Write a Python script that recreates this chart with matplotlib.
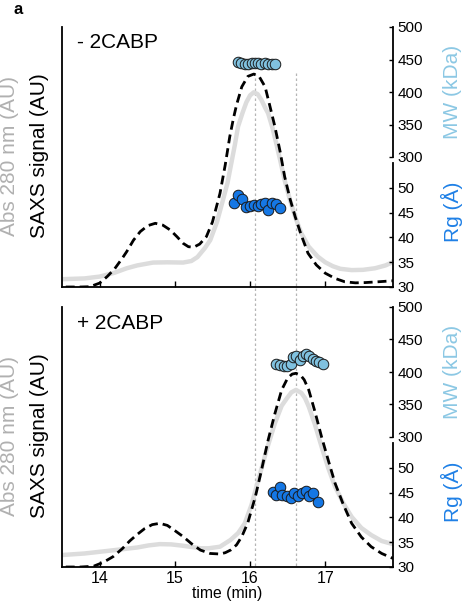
import matplotlib
matplotlib.use("Agg")
import matplotlib.pyplot as plt
from matplotlib.lines import Line2D
from matplotlib.transforms import blended_transform_factory

plt.rcParams['font.family'] = ['Liberation Sans', 'DejaVu Sans']

# ---------------- data ----------------
# top panel (- 2CABP)
t_abs_top = [13.5, 13.8, 14.0, 14.2, 14.36, 14.5, 14.71, 14.9, 15.11, 15.22, 15.3, 15.4,
             15.47, 15.56, 15.64, 15.7, 15.74, 15.8, 15.84, 15.9, 15.95, 16.0, 16.05, 16.1,
             16.15, 16.2, 16.24, 16.3, 16.35, 16.4, 16.46, 16.53, 16.6, 16.68, 16.78, 16.9,
             17.0, 17.1, 17.2, 17.35, 17.5, 17.66, 17.8, 17.9]
abs_top = [0.030, 0.033, 0.040, 0.055, 0.072, 0.083, 0.094, 0.095, 0.094, 0.10, 0.115, 0.15,
           0.18, 0.25, 0.335, 0.40, 0.46, 0.55, 0.617, 0.67, 0.71, 0.737, 0.749, 0.742,
           0.72, 0.69, 0.668, 0.61, 0.55, 0.488, 0.41, 0.335, 0.27, 0.207, 0.155, 0.117,
           0.095, 0.08, 0.07, 0.065, 0.066, 0.072, 0.083, 0.096]
t_saxs_top = [13.55, 13.75, 13.87, 14.0, 14.1, 14.2, 14.3, 14.36, 14.45, 14.54, 14.64, 14.74,
              14.84, 14.94, 15.03, 15.11, 15.18, 15.25, 15.33, 15.42, 15.5, 15.6, 15.67,
              15.73, 15.78, 15.82, 15.89, 15.97, 16.05, 16.12, 16.2, 16.26, 16.33, 16.4,
              16.46, 16.53, 16.6, 16.68, 16.77, 16.88, 17.0, 17.13, 17.26, 17.4, 17.53,
              17.7, 17.9]
saxs_top = [0.0, 0.0, 0.001, 0.015, 0.04, 0.07, 0.11, 0.136, 0.18, 0.213, 0.236, 0.245,
            0.238, 0.219, 0.193, 0.168, 0.155, 0.153, 0.165, 0.194, 0.25, 0.36, 0.47,
            0.578, 0.65, 0.70, 0.77, 0.81, 0.819, 0.81, 0.77, 0.70, 0.617, 0.52,
            0.424, 0.34, 0.27, 0.2, 0.13, 0.085, 0.053, 0.033, 0.020, 0.016, 0.017,
            0.02, 0.024]
t_mw_top = [15.84, 15.88, 15.93, 15.97, 16.02, 16.06, 16.11, 16.15, 16.2, 16.24, 16.29, 16.33]
mw_top = [446, 444, 443, 443, 444, 444, 444, 443, 444, 443, 443, 443]
t_rg_top = [15.79, 15.84, 15.89, 15.94, 16.0, 16.05, 16.11, 16.15, 16.2, 16.24, 16.29, 16.34, 16.4]
rg_top = [47.0, 48.6, 47.7, 46.2, 46.4, 46.5, 46.4, 46.8, 47.0, 45.6, 47.0, 46.8, 45.9]

# bottom panel (+ 2CABP)
t_abs_bot = [13.5, 13.8, 14.14, 14.35, 14.5, 14.65, 14.8, 14.95, 15.1, 15.22, 15.34, 15.45,
             15.6, 15.67, 15.74, 15.84, 15.93, 16.02, 16.11, 16.22, 16.33, 16.42, 16.49,
             16.55, 16.61, 16.68, 16.73, 16.78, 16.86, 16.95, 17.04, 17.13, 17.24, 17.35,
             17.48, 17.61, 17.75, 17.9]
abs_bot = [0.046, 0.052, 0.063, 0.07, 0.075, 0.083, 0.088, 0.087, 0.082, 0.077, 0.072, 0.072,
           0.078, 0.091, 0.104, 0.13, 0.168, 0.24, 0.335, 0.45, 0.553, 0.62, 0.649,
           0.672, 0.681, 0.67, 0.65, 0.617, 0.55, 0.463, 0.38, 0.309, 0.245, 0.193,
           0.15, 0.123, 0.10, 0.088]
t_saxs_bot = [13.55, 13.75, 13.92, 14.05, 14.18, 14.3, 14.4, 14.49, 14.6, 14.7, 14.8, 14.9,
              15.0, 15.11, 15.22, 15.34, 15.47, 15.6, 15.67, 15.74, 15.82, 15.89, 15.97,
              16.07, 16.15, 16.24, 16.33, 16.42, 16.5, 16.56, 16.61, 16.67, 16.72, 16.78,
              16.86, 16.95, 17.04, 17.13, 17.24, 17.35, 17.48, 17.61, 17.75, 17.9]
saxs_bot = [0.0, 0.0, 0.003, 0.018, 0.04, 0.07, 0.1, 0.123, 0.148, 0.163, 0.168, 0.16,
            0.14, 0.117, 0.09, 0.065, 0.052, 0.05, 0.055, 0.065, 0.085, 0.117, 0.17,
            0.27, 0.37, 0.488, 0.59, 0.681, 0.727, 0.742, 0.745, 0.738, 0.72, 0.681,
            0.60, 0.501, 0.41, 0.322, 0.24, 0.168, 0.115, 0.078, 0.052, 0.033]
t_mw_bot = [16.35, 16.4, 16.45, 16.49, 16.54, 16.57, 16.61, 16.66, 16.7, 16.75, 16.79,
            16.84, 16.88, 16.92, 16.97]
mw_bot = [412, 410, 409, 409, 412, 423, 425, 418, 425, 428, 424, 420, 417, 415, 412]
t_rg_bot = [16.3, 16.34, 16.4, 16.43, 16.49, 16.54, 16.59, 16.64, 16.69, 16.74, 16.79, 16.84, 16.9]
rg_bot = [45.2, 44.5, 46.1, 44.5, 44.3, 43.9, 45.0, 44.3, 44.9, 45.4, 44.3, 44.9, 43.2]

panel_titles = ["- 2CABP", "+ 2CABP"]
x_ticks = [14, 15, 16, 17]
mw_ticks = [300, 350, 400, 450, 500]
rg_ticks = [30, 35, 40, 45, 50]
ref_times = [16.06, 16.61]

# ---------------- style ----------------
C_ABS = '#dcdcdc'
C_ABS_LABEL = '#b0b0b0'
C_MW = '#80c1df'
C_MW_LABEL = '#8cc8e4'
C_RG = '#1577e4'
C_RG_LABEL = '#1f80e6'

W_PX, H_PX = 466, 606
fig = plt.figure(figsize=(W_PX / 100, H_PX / 100), dpi=100)

left = 62 / W_PX
width = (393 - 62) / W_PX
panel_tops = [27, 307]
panel_h = 260

data = [
    (t_abs_top, abs_top, t_saxs_top, saxs_top, t_mw_top, mw_top, t_rg_top, rg_top),
    (t_abs_bot, abs_bot, t_saxs_bot, saxs_bot, t_mw_bot, mw_bot, t_rg_bot, rg_bot),
]

axes = []
for i, (ta, a, ts, s, tm, m, tr, r) in enumerate(data):
    top = panel_tops[i]
    bottom = 1 - (top + panel_h) / H_PX
    ax = fig.add_axes([left, bottom, width, panel_h / H_PX])
    ax.patch.set_visible(False)
    ax.plot(ta, a, color=C_ABS, lw=3.2, solid_capstyle='round', solid_joinstyle='round', zorder=2)
    ax.plot(ts, s, color='black', lw=2.0, linestyle=(0, (3.2, 1.8)), zorder=3)
    ax.set_xlim(13.5, 17.9)
    ax.set_ylim(0, 1)
    ax.set_xticks(x_ticks)
    ax.tick_params(axis='x', direction='in', length=4, width=1.0, labelsize=11.5, pad=3)
    if i == 0:
        ax.tick_params(axis='x', labelbottom=False)
    else:
        ax.set_xlabel("time (min)", fontsize=11.3, labelpad=0)
    ax.set_yticks([])
    for sp in ['top', 'right']:
        ax.spines[sp].set_visible(False)
    for sp in ['left', 'bottom']:
        ax.spines[sp].set_linewidth(1.3)

    # MW twin axis
    axm = ax.twinx()
    axm.set_ylim(100, 500)
    axm.plot(tm, m, 'o', ms=7.6, mfc=C_MW, mec='#1a1a1a', mew=0.7, zorder=5)
    axm.spines['right'].set_bounds(300, 500)
    for sp in ['top', 'left', 'bottom']:
        axm.spines[sp].set_visible(False)
    axm.spines['right'].set_linewidth(1.3)
    axm.set_yticks(mw_ticks)
    axm.tick_params(axis='y', direction='in', length=3, width=1.0, labelsize=11, pad=3)

    # Rg twin axis
    axr = ax.twinx()
    axr.set_ylim(30, 82.5)
    axr.plot(tr, r, 'o', ms=7.6, mfc=C_RG, mec='#1a1a1a', mew=0.7, zorder=5)
    axr.spines['right'].set_bounds(30, 55)
    for sp in ['top', 'left', 'bottom']:
        axr.spines[sp].set_visible(False)
    axr.spines['right'].set_linewidth(1.3)
    axr.set_yticks(rg_ticks)
    axr.tick_params(axis='y', direction='in', length=3, width=1.0, labelsize=11, pad=3)

    ax.text(0.045, 0.975, panel_titles[i], transform=ax.transAxes, fontsize=15,
            ha='left', va='top')

    # left labels
    cy = 1 - (top + 129) / H_PX
    fig.text(10 / W_PX, cy, "Abs 280 nm (AU)", rotation=90, ha='center', va='center',
             fontsize=15, color=C_ABS_LABEL)
    fig.text(40 / W_PX, cy, "SAXS signal (AU)", rotation=90, ha='center', va='center',
             fontsize=15, color='black')
    # right labels
    fig.text(452 / W_PX, 1 - (top + 65) / H_PX, "MW (kDa)", rotation=90, ha='center',
             va='center', fontsize=15, color=C_MW_LABEL)
    fig.text(452 / W_PX, 1 - (top + 185) / H_PX, "Rg (Å)", rotation=90, ha='center',
             va='center', fontsize=15, color=C_RG_LABEL)
    axes.append(ax)

# vertical reference lines spanning both panels
trans = blended_transform_factory(axes[0].transData, fig.transFigure)
for xt in ref_times:
    fig.add_artist(Line2D([xt, xt], [1 - 73 / H_PX, 1 - 567 / H_PX], transform=trans,
                          color='#b5b5b5', lw=0.9, linestyle=(0, (2, 2)), zorder=-1))

fig.text(18 / W_PX, 1 - 10 / H_PX, "a", fontsize=12, fontweight='bold', ha='center', va='center')

fig.savefig("out.png", dpi=100)
